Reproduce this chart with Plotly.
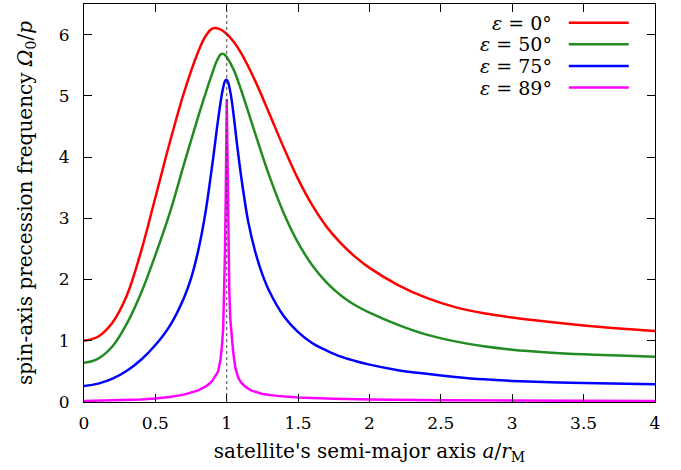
import plotly.graph_objects as go

# ---- data ----
x_red = [0, 0.1, 0.2, 0.3, 0.4, 0.5, 0.6, 0.7, 0.8, 0.85, 0.9, 0.95, 1.0, 1.05, 1.1,
         1.2, 1.3, 1.4, 1.5, 1.6, 1.7, 1.8, 1.9, 2.0, 2.2, 2.4, 2.6, 2.8, 3.0, 3.25,
         3.5, 3.75, 4.0]
y_red = [1.00, 1.07, 1.30, 1.74, 2.46, 3.34, 4.23, 5.05, 5.72, 5.97, 6.10, 6.09, 6.01,
         5.88, 5.70, 5.24, 4.70, 4.15, 3.64, 3.21, 2.86, 2.59, 2.37, 2.19, 1.91, 1.70,
         1.55, 1.45, 1.38, 1.31, 1.25, 1.20, 1.16]

x_green = [0, 0.1, 0.2, 0.3, 0.4, 0.5, 0.6, 0.7, 0.8, 0.85, 0.9, 0.93, 0.96, 0.98, 1.0,
           1.05, 1.1, 1.2, 1.3, 1.4, 1.5, 1.6, 1.7, 1.8, 1.9, 2.0, 2.2, 2.4, 2.6, 2.8,
           3.0, 3.25, 3.5, 3.75, 4.0]
y_green = [0.64, 0.71, 0.91, 1.28, 1.78, 2.40, 3.08, 3.88, 4.66, 5.03, 5.38, 5.57, 5.68,
           5.68, 5.63, 5.42, 5.10, 4.38, 3.68, 3.08, 2.60, 2.23, 1.95, 1.74, 1.58, 1.46,
           1.26, 1.10, 0.99, 0.91, 0.855, 0.81, 0.78, 0.76, 0.74]

x_blue = [0, 0.1, 0.2, 0.3, 0.4, 0.5, 0.6, 0.7, 0.75, 0.8, 0.85, 0.9, 0.94, 0.97, 0.99,
          1.0, 1.01, 1.03, 1.05, 1.07, 1.1, 1.15, 1.2, 1.25, 1.3, 1.4, 1.5, 1.6, 1.7,
          1.8, 1.9, 2.0, 2.2, 2.4, 2.6, 2.8, 3.0, 3.5, 4.0]
y_blue = [0.26, 0.30, 0.38, 0.51, 0.69, 0.93, 1.24, 1.70, 2.02, 2.47, 3.08, 3.90, 4.62,
          5.08, 5.25, 5.26, 5.22, 5.00, 4.65, 4.25, 3.70, 2.95, 2.45, 2.08, 1.80, 1.40,
          1.14, 0.96, 0.84, 0.74, 0.67, 0.61, 0.52, 0.46, 0.41, 0.37, 0.345, 0.31, 0.29]

x_mag = [0, 0.2, 0.4, 0.5, 0.6, 0.7, 0.75, 0.8, 0.85, 0.88, 0.9, 0.92, 0.94, 0.955,
         0.965, 0.975, 0.982, 0.988, 0.993, 0.997, 1.0, 1.003, 1.007, 1.012, 1.018,
         1.025, 1.035, 1.045, 1.06, 1.08, 1.1, 1.13, 1.17, 1.25, 1.35, 1.5, 1.75, 2.0,
         2.5, 3.0, 3.5, 4.0]
y_mag = [0.016, 0.025, 0.042, 0.058, 0.08, 0.12, 0.15, 0.19, 0.25, 0.30, 0.35, 0.42,
         0.50, 0.68, 0.87, 1.20, 1.70, 2.50, 3.40, 4.40, 4.95, 4.40, 3.40, 2.50, 1.80,
         1.35, 1.00, 0.82, 0.56, 0.40, 0.32, 0.25, 0.19, 0.13, 0.10, 0.075, 0.055,
         0.042, 0.030, 0.022, 0.018, 0.015]

labels = ["<i>ε</i> = 0°", "<i>ε</i> = 50°", "<i>ε</i> = 75°", "<i>ε</i> = 89°"]
colors = ["#ff0000", "#228b22", "#0000ff", "#ff00ff"]
x_ticks = [0, 0.5, 1, 1.5, 2, 2.5, 3, 3.5, 4]
x_tick_text = ["0", "0.5", "1", "1.5", "2", "2.5", "3", "3.5", "4"]
y_ticks = [0, 1, 2, 3, 4, 5, 6]

FONT = "DejaVu Serif"
FS = 17      # tick labels
FT = 20      # axis titles
FL = 19      # legend text

fig = go.Figure()
series = [(x_red, y_red), (x_green, y_green), (x_blue, y_blue), (x_mag, y_mag)]
for i, (xs, ys) in enumerate(series):
    fig.add_trace(go.Scatter(
        x=xs, y=ys, mode="lines", name=labels[i],
        line=dict(color=colors[i], width=2.5,
                  shape="linear" if i == 3 else "spline", smoothing=1.0),
        showlegend=False, hoverinfo="skip"))

# dotted vertical line at a = r_M
fig.add_shape(type="line", xref="x", yref="paper", x0=1, x1=1, y0=0, y1=1,
              line=dict(color="#444444", width=1, dash="dot"), layer="above")

# manual legend (text right-aligned, sample to the right)
row_y = [0.953, 0.899, 0.844, 0.790]
for i in range(4):
    fig.add_annotation(xref="paper", yref="paper", x=0.823, y=row_y[i],
                       text=labels[i], showarrow=False, xanchor="right",
                       yanchor="middle", font=dict(family=FONT, size=FL, color="black"))
    fig.add_shape(type="line", xref="paper", yref="paper", x0=0.849, x1=0.954,
                  y0=row_y[i], y1=row_y[i], line=dict(color=colors[i], width=2.5))

axis_common = dict(showgrid=False, zeroline=False, showline=True, linecolor="black",
                   linewidth=1, mirror="ticks", ticks="inside", ticklen=8,
                   tickcolor="black", tickwidth=1,
                   tickfont=dict(family=FONT, size=FS, color="black"))

fig.update_xaxes(range=[0, 4], tickvals=x_ticks, ticktext=x_tick_text,
                 title=dict(text="satellite's semi-major axis <i>a</i>/<i>r</i><sub>M</sub>",
                            font=dict(family=FONT, size=FT, color="black"), standoff=11),
                 ticklabelstandoff=6, **axis_common)
fig.update_yaxes(range=[0, 6.5], tickvals=y_ticks,
                 title=dict(text="spin-axis precession frequency <i>Ω</i><sub>0</sub>/<i>p</i>",
                            font=dict(family=FONT, size=FT, color="black"), standoff=20),
                 ticklabelstandoff=10, **axis_common)

fig.update_layout(width=681, height=470, margin=dict(l=84, r=26, t=4, b=68),
                  paper_bgcolor="white", plot_bgcolor="white",
                  font=dict(family=FONT, color="black"))

fig.write_html("out.html")
